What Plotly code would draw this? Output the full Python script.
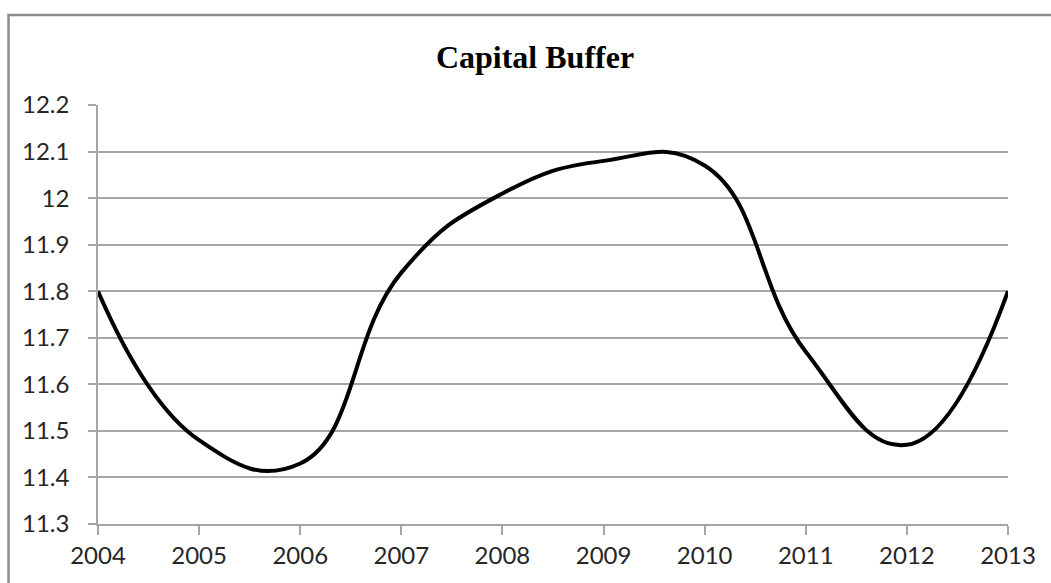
import plotly.graph_objects as go

# Capital buffer by year
years = [2004, 2005, 2006, 2007, 2008, 2009, 2010, 2011, 2012, 2013]
capital_buffer = [11.80, 11.48, 11.43, 11.84, 12.01, 12.08, 12.07, 11.67, 11.47, 11.80]
y_ticks = [11.3, 11.4, 11.5, 11.6, 11.7, 11.8, 11.9, 12.0, 12.1, 12.2]
y_tick_labels = ["11.3", "11.4", "11.5", "11.6", "11.7", "11.8", "11.9", "12", "12.1", "12.2"]

W, H = 1051, 583
L, R, T, B = 98, 1008, 105, 524  # plot area in pixels

fig = go.Figure(
    go.Scatter(
        x=years,
        y=capital_buffer,
        mode="lines",
        line=dict(color="black", width=4, shape="spline", smoothing=1.3),
        hoverinfo="x+y",
    )
)

axis_grey = "#a6a6a6"
label_font = dict(family="Lato, 'Open Sans', sans-serif", size=24, color="#262626")


def px_to_paper_x(px):
    return (px - L) / (R - L)


def px_to_paper_y(py):
    return (B - py) / (B - T)


fig.update_layout(
    width=W,
    height=H,
    margin=dict(l=L, r=W - R, t=T, b=H - B),
    paper_bgcolor="white",
    plot_bgcolor="white",
    showlegend=False,
    title=dict(
        text="<b>Capital Buffer</b>",
        font=dict(family="'Liberation Serif', 'Times New Roman', serif", size=32, color="black"),
        x=535 / W,
        xanchor="center",
        y=1 - 57 / H,
        yanchor="middle",
    ),
    xaxis=dict(
        range=[2004, 2013],
        tickmode="array",
        tickvals=years,
        ticktext=[str(y) for y in years],
        showgrid=False,
        zeroline=False,
        showline=True,
        linecolor=axis_grey,
        linewidth=1.5,
        ticks="outside",
        ticklen=9,
        tickwidth=1.5,
        tickcolor=axis_grey,
        tickfont=label_font,
        fixedrange=True,
    ),
    yaxis=dict(
        range=[11.3, 12.2],
        tickmode="array",
        tickvals=y_ticks,
        ticktext=y_tick_labels,
        showgrid=True,
        gridcolor=axis_grey,
        gridwidth=1.5,
        zeroline=False,
        showline=True,
        linecolor=axis_grey,
        linewidth=1.5,
        ticks="outside",
        ticklen=8,
        tickwidth=1.5,
        tickcolor=axis_grey,
        tickfont=label_font,
        ticklabelstandoff=14,
        fixedrange=True,
    ),
    shapes=[
        # outer chart frame, running past the right and bottom edges
        dict(
            type="rect",
            xref="paper",
            yref="paper",
            x0=px_to_paper_x(8.5),
            x1=px_to_paper_x(W + 20),
            y0=px_to_paper_y(H + 20),
            y1=px_to_paper_y(15),
            line=dict(color="#8c8c8c", width=2.5),
            fillcolor="rgba(0,0,0,0)",
            layer="below",
        )
    ],
)

fig.write_html("out.html")
